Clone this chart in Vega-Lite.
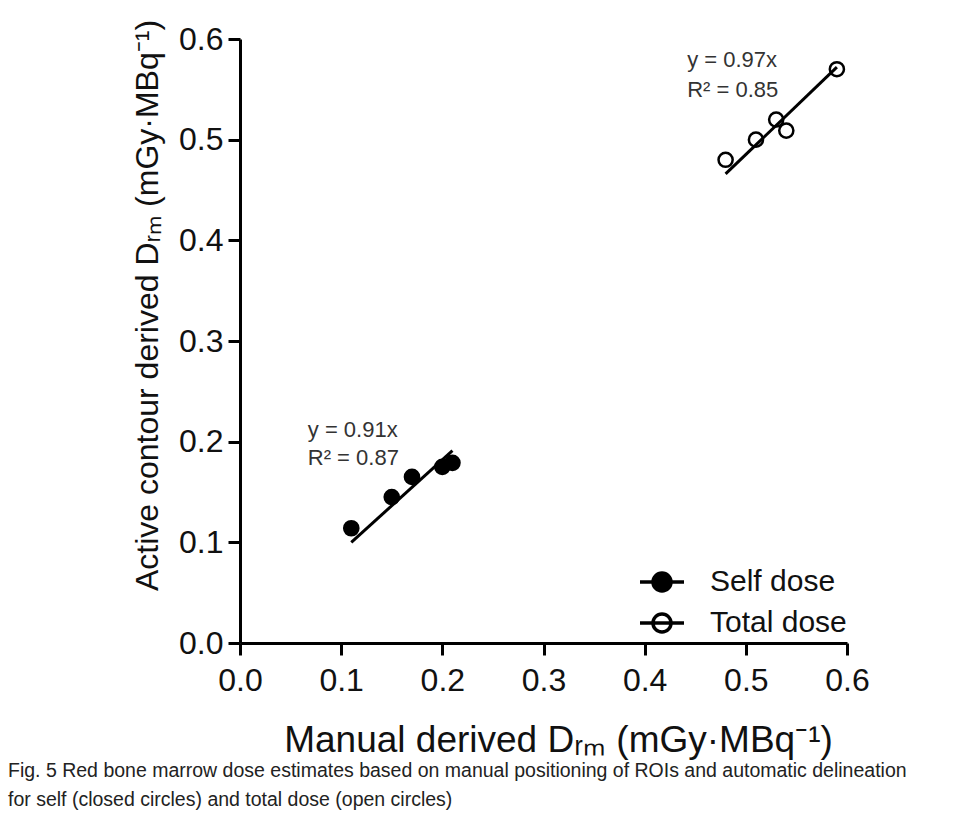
{
  "$schema": "https://vega.github.io/schema/vega-lite/v6.json",
  "width": 607,
  "height": 604,
  "autosize": {"type": "none"},
  "padding": {"left": 240, "top": 39, "right": 111, "bottom": 184},
  "background": "white",
  "title": {
    "text": ["Fig. 5 Red bone marrow dose estimates based on manual positioning of ROIs and automatic delineation", "for self (closed circles) and total dose (open circles)"],
    "orient": "bottom",
    "anchor": "start",
    "frame": "group",
    "dx": -232,
    "offset": 4,
    "fontSize": 19.5,
    "fontWeight": "normal",
    "font": "Liberation Sans",
    "color": "#222",
    "lineHeight": 29
  },
  "config": {
    "view": {"stroke": null},
    "font": "Liberation Sans",
    "axis": {
      "grid": false,
      "domainColor": "black",
      "domainWidth": 3,
      "tickColor": "black",
      "tickWidth": 3,
      "tickSize": 12,
      "labelFontSize": 32,
      "labelColor": "#111",
      "labelFont": "Liberation Sans",
      "labelFlush": false,
      "labelOverlap": false,
      "labelBound": false,
      "titleFontWeight": "normal",
      "titleColor": "#111",
      "titleFont": "Liberation Sans"
    }
  },
  "datasets": {
    "points": [
      {"series": "Self dose", "x": 0.11, "y": 0.114},
      {"series": "Self dose", "x": 0.15, "y": 0.145},
      {"series": "Self dose", "x": 0.17, "y": 0.165},
      {"series": "Self dose", "x": 0.20, "y": 0.175},
      {"series": "Self dose", "x": 0.21, "y": 0.179},
      {"series": "Total dose", "x": 0.48, "y": 0.48},
      {"series": "Total dose", "x": 0.51, "y": 0.50},
      {"series": "Total dose", "x": 0.53, "y": 0.52},
      {"series": "Total dose", "x": 0.54, "y": 0.509},
      {"series": "Total dose", "x": 0.59, "y": 0.57}
    ],
    "fits": [
      {"series": "Self dose", "x1": 0.11, "y1": 0.100, "x2": 0.21, "y2": 0.191},
      {"series": "Total dose", "x1": 0.48, "y1": 0.466, "x2": 0.59, "y2": 0.572}
    ],
    "notes": [
      {"x": 0.067, "y": 0.2115, "label": "y = 0.91x"},
      {"x": 0.067, "y": 0.184, "label": "R² = 0.87"},
      {"x": 0.442, "y": 0.579, "label": "y = 0.97x"},
      {"x": 0.442, "y": 0.549, "label": "R² = 0.85"}
    ]
  },
  "layer": [
    {
      "data": {"name": "fits"},
      "mark": {"type": "rule", "color": "black", "strokeWidth": 3},
      "encoding": {
        "x": {"field": "x1", "type": "quantitative", "scale": {"domain": [0, 0.6], "nice": false}, "title": "Manual derived Dᵣₘ (mGy·MBq⁻¹)",
              "axis": {"values": [0, 0.1, 0.2, 0.3, 0.4, 0.5, 0.6], "format": ".1f", "labelPadding": 10, "titleFontSize": 37, "titleX": 318, "titleY": 97, "titleBaseline": "middle", "titleAlign": "center"}},
        "y": {"field": "y1", "type": "quantitative", "scale": {"domain": [0, 0.6], "nice": false}, "title": "Active contour derived Dᵣₘ (mGy·MBq⁻¹)",
              "axis": {"values": [0, 0.1, 0.2, 0.3, 0.4, 0.5, 0.6], "format": ".1f", "labelPadding": 5, "titleFontSize": 32, "titleX": -93, "titleY": 266, "titleBaseline": "middle", "titleAlign": "center"}},
        "x2": {"field": "x2"},
        "y2": {"field": "y2"}
      }
    },
    {
      "data": {"name": "points"},
      "mark": {"type": "point", "shape": "circle", "size": 200, "filled": true, "stroke": "black", "strokeWidth": 2.5, "opacity": 1},
      "encoding": {
        "x": {"field": "x", "type": "quantitative", "scale": {"domain": [0, 0.6], "nice": false}, "title": "Manual derived Dᵣₘ (mGy·MBq⁻¹)"},
        "y": {"field": "y", "type": "quantitative", "scale": {"domain": [0, 0.6], "nice": false}, "title": "Active contour derived Dᵣₘ (mGy·MBq⁻¹)"},
        "fill": {
          "field": "series", "type": "nominal",
          "scale": {"domain": ["Self dose", "Total dose"], "range": ["black", "transparent"]},
          "legend": {
            "title": null,
            "orient": "none",
            "legendX": 398,
            "legendY": 519,
            "symbolType": "M-1,0H1M-0.41,0A0.41,0.41,0,1,1,0.41,0A0.41,0.41,0,1,1,-0.41,0",
            "symbolSize": 1936,
            "symbolStrokeColor": "black",
            "symbolStrokeWidth": 3.5,
            "labelFontSize": 30,
            "labelColor": "#111",
            "labelOffset": 24,
            "rowPadding": 0,
            "padding": 0
          }
        }
      }
    },
    {
      "data": {"name": "notes"},
      "mark": {"type": "text", "align": "left", "baseline": "middle", "fontSize": 22, "color": "#333"},
      "encoding": {
        "x": {"field": "x", "type": "quantitative", "scale": {"domain": [0, 0.6], "nice": false}, "title": "Manual derived Dᵣₘ (mGy·MBq⁻¹)"},
        "y": {"field": "y", "type": "quantitative", "scale": {"domain": [0, 0.6], "nice": false}, "title": "Active contour derived Dᵣₘ (mGy·MBq⁻¹)"},
        "text": {"field": "label"}
      }
    }
  ]
}
